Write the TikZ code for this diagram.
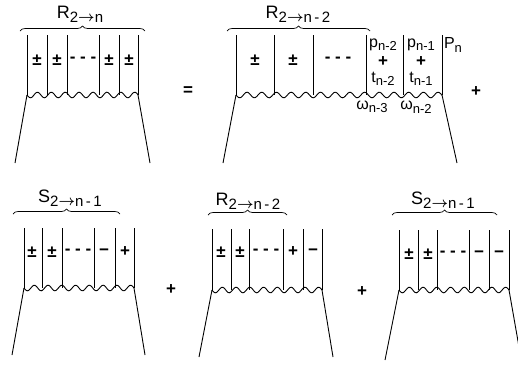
\documentclass[tikz,border=0pt]{standalone}
\usepackage{amsmath}
\usepackage{fontspec}
\setmainfont{Liberation Sans}
\usetikzlibrary{decorations.pathreplacing}

\tikzset{
  lbl/.style={font=\fontsize{18}{18}\selectfont, inner sep=0pt},
  sgn/.style={font=\fontsize{17}{17}\selectfont\bfseries, inner sep=0pt},
  cell/.style={font=\fontsize{16}{16}\selectfont, inner sep=0pt},
  brc/.style={decorate, decoration={brace, amplitude=5pt}, line width=0.7pt},
}
\newcommand{\sub}[1]{\raisebox{-0.45ex}{\fontsize{15}{15}\selectfont #1}}
\newcommand{\csub}[1]{\raisebox{-0.4ex}{\fontsize{13}{13}\selectfont #1}}
\newcommand{\arr}{\raisebox{0.1ex}{$\boldsymbol{\rightarrow}$}}

\begin{document}
\begin{tikzpicture}[x=1pt,y=-1pt,line width=0.9pt]
  \useasboundingbox (0,0) rectangle (518,364);

  % R_{2->n}
  \foreach \x in {27,47,67,99,119,138} \draw (\x,35)--(\x,95);
  \draw plot[domain=27:138,samples=90] (\x,{95+2.8*sin((\x-27)/13.9*360)});
  \draw (27,95)--(15,163); \draw (138,95)--(150,163);
  \draw[brc] (20,31)--(145,31);
  \node[lbl] (rn) at (80,14) {R\sub{2\arr n}};
  \foreach \x/\s [count=\i] in {37/±,57/±,83/- - -,109/±,129/±} \node[sgn] (a\i) at (\x,60) {\s};

  \node[sgn] (eq) at (188,91) {=};

  % R_{2->n-2} plus last two cells
  \foreach \x in {236,274,313,366,403,442} \draw (\x,35)--(\x,95);
  \draw plot[domain=236:442,samples=150] (\x,{95+2.8*sin((\x-236)/14.7*360)});
  \draw (236,95)--(223,163); \draw (442,95)--(457,163);
  \draw[brc] (227,31)--(370,31);
  \node[lbl] (rn2) at (298,14) {R\sub{2\arr n\,-\,2}};
  \foreach \x/\s [count=\i] in {255/±,293/±,338/- - -} \node[sgn] (b\i) at (\x,60) {\s};
  \node[cell] (p2) at (383,45) {p\csub{n-2}};
  \node[sgn] (q2) at (383,62) {+};
  \node[cell] (t2) at (383,79) {t\csub{n-2}};
  \node[cell] (p1) at (421,45) {p\csub{n-1}};
  \node[sgn] (q1) at (421,62) {+};
  \node[cell] (t1) at (421,79) {t\csub{n-1}};
  \node[cell] (pn) at (453,45) {P\csub{n}};
  \node[cell] (w3) at (372,107) {ω\csub{n-3}};
  \node[cell] (w2) at (416,107) {ω\csub{n-2}};
  \node[sgn] (pl1) at (476,92) {+};

  % S_{2->n-1}
  \foreach \x in {24,42,62,94,115,134} \draw (\x,228)--(\x,288);
  \draw plot[domain=24:134,samples=90] (\x,{288+2.8*sin((\x-24)/13.75*360)});
  \draw (24,288)--(12,355); \draw (134,288)--(145,355);
  \draw[brc] (13,214)--(120,214);
  \node[lbl] (sn) at (70,198) {S\sub{2\arr n\,-\,1}};
  \foreach \x/\s [count=\i] in {32/±,52/±,78/- - -,104/−,125/+} \node[sgn] (c\i) at (\x,252) {\s};
  \node[sgn] (pl2) at (171,290) {+};

  % R_{2->n-2}
  \foreach \x in {212,231,249,283,303,322} \draw (\x,229)--(\x,290);
  \draw plot[domain=212:322,samples=90] (\x,{290+2.8*sin((\x-212)/13.75*360)});
  \draw (212,290)--(199,357); \draw (322,290)--(333,357);
  \draw[brc] (208,215)--(287,215);
  \node[lbl] (rn3) at (248,201) {R\sub{2\arr n\,-\,2}};
  \foreach \x/\s [count=\i] in {221/±,240/±,266/- - -,293/+,313/−} \node[sgn] (d\i) at (\x,252) {\s};
  \node[sgn] (pl3) at (362,292) {+};

  % S_{2->n-1}
  \foreach \x in {399,418,437,469,489,509} \draw (\x,230)--(\x,290);
  \draw plot[domain=399:509,samples=90] (\x,{290+2.8*sin((\x-399)/13.75*360)});
  \draw (399,290)--(385,360); \draw (509,290)--(522,364);
  \draw[brc] (392,215)--(497,215);
  \node[lbl] (sn2) at (443,200) {S\sub{2\arr n\,-\,1}};
  \foreach \x/\s [count=\i] in {409/±,428/±,453/- - -,479/−,499/−} \node[sgn] (e\i) at (\x,254) {\s};
\end{tikzpicture}
\end{document}
